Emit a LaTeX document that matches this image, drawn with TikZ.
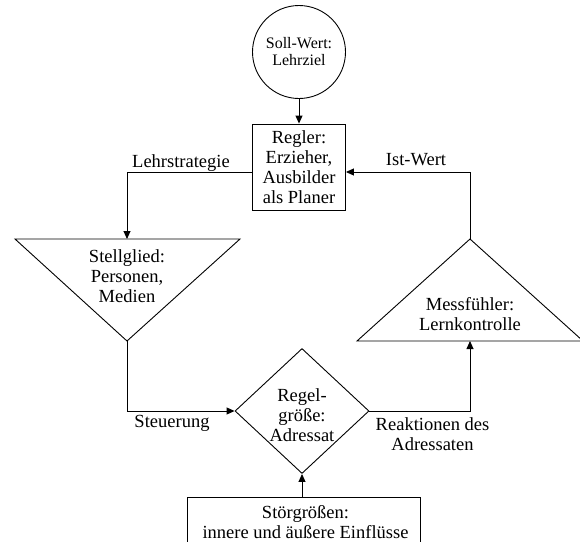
\documentclass[tikz,border=0pt]{standalone}
\usepackage{fontspec}
\setmainfont{Liberation Serif}
\usetikzlibrary{arrows.meta,shapes.geometric}
\tikzset{
  ln/.style={line width=0.9pt, draw=black},
  arr/.style={ln, -{Triangle[length=8pt,width=7pt]}},
  txt/.style={align=center, inner sep=0pt, font=\fontsize{18.5}{20}\selectfont},
  lbl/.style={inner sep=0pt, anchor=base, font=\fontsize{18.5}{20}\selectfont},
}
\begin{document}
\begin{tikzpicture}[x=1pt,y=-1pt]
\useasboundingbox (0,0) rectangle (580,541);
% Soll-Wert
\node[ln, circle, minimum size=93pt, inner sep=0pt, align=center,
      font=\fontsize{16}{17}\selectfont] (soll) at (299,52) {Soll-Wert:\\Lehrziel};
% Regler
\node[ln, rectangle, minimum width=93pt, minimum height=86pt, inner sep=0pt] (regler) at (299,167) {};
\node[txt] (reglertxt) at (299,167.5) {Regler:\\Erzieher,\\Ausbilder\\als Planer};
% Stellglied triangle
\coordinate (stL) at (15,239);
\coordinate (stR) at (240,239);
\coordinate (stTop) at (127,239);
\coordinate (stApex) at (127,341);
\draw[ln] (stL) -- (stR) -- (stApex) -- cycle;
\node[txt] (sttxt) at (127,276) {Stellglied:\\Personen,\\Medien};
% Messfuehler triangle
\coordinate (mfL) at (357,341);
\coordinate (mfR) at (583,341);
\coordinate (mfBase) at (470,341);
\coordinate (mfApex) at (470,239);
\draw[ln] (mfL) -- (mfR) -- (mfApex) -- cycle;
\node[txt] (mftxt) at (470,314) {Messfühler:\\Lernkontrolle};
% Regelgroesse diamond
\node[ln, diamond, minimum width=134pt, minimum height=125pt, inner sep=0pt] (dia) at (302,411) {};
\node[txt] (diatxt) at (302,415) {Regel-\\größe:\\Adressat};
% Stoergroessen
\node[ln, rectangle, minimum width=233pt, minimum height=63pt, inner sep=0pt] (stoer) at (303.5,528.5) {};
\node[txt] (stoertxt) at (305.5,522) {Störgrößen:\\innere und äußere Einflüsse};
% connectors
\draw[arr] (soll) -- (regler);
\draw[arr] ([yshift=-5pt]regler.west) -| (stTop);
\draw[arr] (stApex) |- (dia.west);
\draw[arr] (dia.east) -| (mfBase);
\draw[arr] (mfApex) |- ([yshift=-5pt]regler.east);
\draw[arr] (dia.south |- stoer.north) -- (dia.south);
% labels
\node[lbl] (lLehr) at (181,167) {Lehrstrategie};
\node[lbl] (lIst) at (416,165) {Ist-Wert};
\node[lbl] (lSteuer) at (172,427) {Steuerung};
\node[txt] (lReak) at (432.5,434) {Reaktionen des\\Adressaten};
\end{tikzpicture}
\end{document}
